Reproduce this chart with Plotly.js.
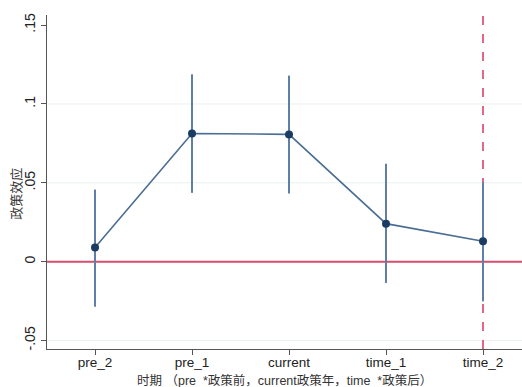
<!DOCTYPE html>
<html><head><meta charset="utf-8">
<script src="https://cdn.plot.ly/plotly-3.0.1.min.js"></script>
<style>html,body{margin:0;padding:0;background:#fff}#c{width:522px;height:387px}</style>
</head><body><div id="c"></div>
<script>
var categories = ["pre_2", "pre_1", "current", "time_1", "time_2"];
var effect = [0.0089, 0.0813, 0.0807, 0.0241, 0.0129];
var ciUpper = [0.0457, 0.1188, 0.1180, 0.0621, 0.0504];
var ciLower = [-0.0286, 0.0436, 0.0432, -0.0135, -0.0252];
var yTickVals = [-0.05, 0, 0.05, 0.1, 0.15];
var yTickText = ["-.05", "0", ".05", ".1", ".15"];
var gridVals = [-0.05, 0.05, 0.1];
var policyLine = "time_2";
var xTitle = "时期 （pre_*政策前，current政策年，time_*政策后）";
var yTitle = "政策效应";

var font = "Liberation Sans, Arial, Noto Sans CJK SC, sans-serif";
var trace = {
  x: categories, y: effect, type: "scatter", mode: "lines+markers",
  line: {color: "#4a6d94", width: 1.6},
  marker: {color: "#1b3c62", size: 8},
  error_y: {type: "data", symmetric: false,
    array: ciUpper.map(function(u, i){return u - effect[i];}),
    arrayminus: ciLower.map(function(l, i){return effect[i] - l;}),
    color: "#5f80a6", thickness: 2, width: 0},
  hoverinfo: "skip", showlegend: false
};
var shapes = gridVals.map(function(v){
  return {type: "line", xref: "paper", x0: 0, x1: 1, yref: "y", y0: v, y1: v,
    line: {color: "#eaf0f0", width: 1}, layer: "below"};
});
shapes.push({type: "line", xref: "paper", x0: 0, x1: 1, yref: "y", y0: 0, y1: 0,
  line: {color: "#d64d6a", width: 2}, layer: "below"});
shapes.push({type: "line", xref: "x", x0: categories.indexOf(policyLine), x1: categories.indexOf(policyLine),
  yref: "paper", y0: 0, y1: 1, line: {color: "#e0557c", width: 1.8, dash: "dash"}, layer: "below"});

var layout = {
  width: 522, height: 387,
  margin: {l: 47, r: 0, t: 15, b: 38},
  paper_bgcolor: "#fff", plot_bgcolor: "#fff",
  font: {family: font, size: 14, color: "#222"},
  xaxis: {type: "category", categoryarray: categories, range: [-0.495, 4.402],
    showline: true, linecolor: "#555", linewidth: 1.2, showgrid: false, zeroline: false,
    ticks: "outside", ticklen: 5, tickcolor: "#555", tickfont: {size: 13.5, color: "#222"},
    ticklabelstandoff: -4, automargin: false},
  yaxis: {range: [-0.0554, 0.1564], tickvals: yTickVals, ticktext: yTickText, tickangle: -90,
    showline: true, linecolor: "#555", linewidth: 1.2, showgrid: false,
    zeroline: false, ticks: "outside", ticklen: 5, tickcolor: "#555", tickfont: {size: 14, color: "#222"},
    automargin: false},
  annotations: [
    {text: xTitle, xref: "paper", yref: "paper", x: 0.5, y: -0.093, xanchor: "center", yanchor: "middle",
      showarrow: false, font: {size: 12.5, color: "#333"}},
    {text: yTitle, xref: "paper", yref: "paper", x: -0.066, y: 0.464, xanchor: "center", yanchor: "middle",
      textangle: -90, showarrow: false, font: {size: 13, color: "#333"}}
  ],
  shapes: shapes
};
Plotly.newPlot("c", [trace], layout, {displayModeBar: false, staticPlot: true});
</script></body></html>
